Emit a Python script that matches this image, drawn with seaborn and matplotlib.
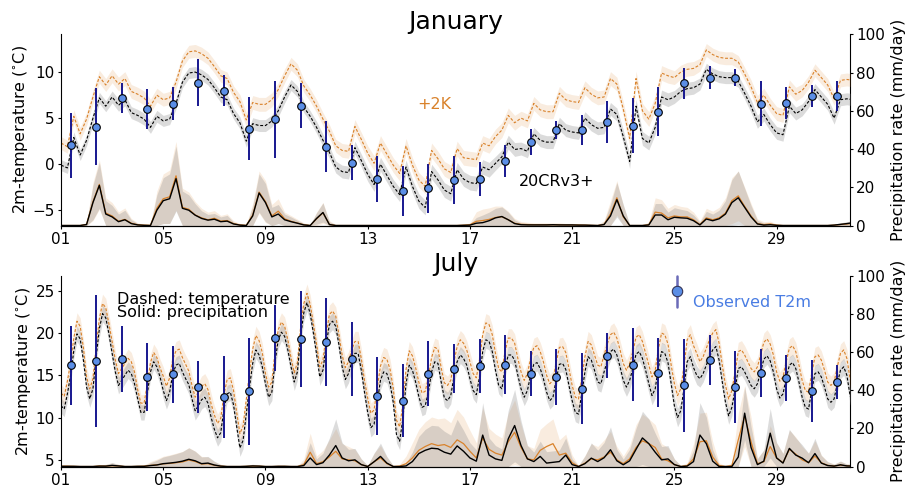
import numpy as np
import matplotlib
matplotlib.use("Agg")
import matplotlib.pyplot as plt
import seaborn as sns

sns.set_style("ticks")
plt.rcParams["font.family"] = ["DejaVu Sans"]
plt.rcParams.update({"text.color": "black", "axes.labelcolor": "black",
                     "xtick.color": "black", "ytick.color": "black",
                     "axes.edgecolor": "black"})

# ---------------- data ----------------
day_ticks = [1, 5, 9, 13, 17, 21, 25, 29]
day_labels = ["01", "05", "09", "13", "17", "21", "25", "29"]
obs_hour = 9

hours_6h = np.arange(0, 745, 6)      # 125 steps, 6-hourly
hours_3h = np.arange(0, 745, 3)      # 249 steps, 3-hourly

# January temperature (6-hourly), 20CRv3 and +2K
jan_t20 = [-0.1, -0.4, 2.9, 1.0, 2.6, 5.0, 7.2, 6.3, 7.3, 6.4, 7.0, 5.6, 5.3, 4.9, 4.0, 5.2,
           4.7, 4.9, 6.6, 8.9, 9.9, 10.0, 9.7, 9.2, 8.3, 7.3, 7.0, 5.5, 4.5, 2.5, 4.4, 4.2,
           4.2, 4.7, 5.8, 7.3, 8.6, 7.9, 6.2, 5.2, 4.0, 2.6, 1.3, -0.3, -0.8, -0.9, 1.8, 0.4,
           -1.1, -2.2, 0.0, -1.2, -2.4, -3.3, -0.3, -2.4, -4.0, -4.7, -0.8, -1.7, -2.8, -3.2, -0.6, -1.6,
           -2.0, -2.1, -0.3, -0.6, 0.1, 0.8, 2.4, 1.6, 1.7, 1.4, 3.3, 2.6, 2.4, 2.4, 4.4, 3.7,
           3.5, 3.4, 5.0, 4.3, 3.9, 4.0, 6.0, 5.4, 3.0, 0.3, 6.3, 2.8, 2.3, 4.0, 7.3, 7.0,
           7.3, 7.9, 8.2, 8.3, 8.7, 10.3, 9.8, 9.5, 9.4, 9.4, 9.0, 7.7, 6.3, 4.6, 5.4, 4.3,
           3.4, 3.2, 6.3, 5.5, 5.9, 6.8, 8.1, 7.3, 6.5, 5.0, 7.0, 7.1, 7.0]
jan_t2k = [2.3, 1.9, 5.2, 3.3, 4.9, 7.3, 9.5, 8.6, 9.6, 8.7, 9.3, 7.9, 7.6, 7.2, 6.3, 7.5,
           7.0, 7.2, 8.9, 11.2, 12.2, 12.3, 12.0, 11.5, 10.6, 9.6, 9.3, 7.8, 6.8, 4.8, 6.7, 6.5,
           6.5, 7.0, 8.1, 9.6, 10.9, 10.2, 8.5, 7.5, 6.3, 4.9, 3.6, 2.0, 1.5, 1.4, 4.1, 2.7,
           1.2, 0.1, 2.3, 1.1, -0.1, -1.0, 2.0, -0.1, -1.7, -2.4, 1.5, 0.6, -0.5, -0.9, 1.7, 0.7,
           0.6, 0.5, 2.3, 2.0, 3.0, 3.7, 5.3, 4.5, 5.0, 4.7, 6.6, 5.9, 5.7, 5.7, 7.7, 7.0,
           6.8, 6.7, 8.3, 7.6, 7.2, 7.3, 9.3, 8.7, 6.0, 2.8, 9.3, 5.8, 4.9, 6.6, 9.9, 9.6,
           9.4, 10.0, 10.3, 10.4, 10.8, 12.4, 11.9, 11.6, 11.5, 11.5, 11.1, 9.8, 8.4, 6.7, 7.5, 6.4,
           5.5, 5.3, 8.4, 7.6, 8.0, 8.9, 10.2, 9.4, 8.6, 7.1, 9.1, 9.2, 9.1]
# daily ensemble spread of temperature (day 1..32)
jan_t20_sd = [0.6, 0.6, 0.65, 0.65, 0.6, 0.6, 0.6, 0.65, 0.65, 0.6, 0.65, 0.7, 0.75, 0.75, 0.8, 0.8,
              0.8, 0.75, 0.7, 0.7, 0.7, 0.7, 0.75, 0.75, 0.7, 0.65, 0.65, 0.7, 0.7, 0.65, 0.65, 0.65]
jan_t2k_sd = [0.7, 0.7, 0.75, 0.75, 0.7, 0.7, 0.7, 0.75, 0.75, 0.7, 0.7, 0.75, 0.8, 0.8, 0.8, 0.8,
              0.8, 0.8, 0.75, 0.75, 0.75, 0.75, 0.8, 0.8, 0.75, 0.7, 0.7, 0.75, 0.75, 0.7, 0.7, 0.7]

# January precipitation (6-hourly) and ensemble spread
jan_p20 = [0, 0, 0, 0, 0.5, 12, 21, 6.0, 4.5, 2.0, 3.0, 1.0, 0.3, 0.1, 0.0, 8.0,
           13, 14, 24.5, 9, 8, 5.4, 3.7, 2.8, 3.3, 2.0, 2.3, 0.8, 0.2, 0.0, 5.0, 17,
           12, 4.5, 6.0, 3.0, 2.0, 1.2, 0.3, 0.0, 3.7, 6.8, 0.5, 0.0, 0, 0, 0, 0,
           0, 0, 0, 0, 0, 0, 0, 0, 0, 0, 0, 0, 0, 0, 0, 0.1,
           0.2, 1.2, 1.5, 2.5, 4.0, 4.7, 3.0, 1.0, 0.4, 0.3, 0.3, 0.3, 0.3, 0.4, 0.3, 0.3,
           0.3, 0.2, 0.2, 0.1, 0.0, 0.5, 5.0, 13.5, 5.0, 0.0, 0.0, 0.0, 0.3, 5.5, 5.5, 3.0,
           4.3, 4.0, 3.8, 2.5, 0.3, 3.4, 2.5, 3.5, 6.0, 12.0, 14.5, 9.5, 4.5, 0.8, 0.2, 0.4,
           0.1, 0, 0, 0, 0, 0, 0, 0, 0.0, 0.2, 0.6, 1.0, 1.5]
jan_p2k = [0, 0, 0, 0, 0.6, 12.5, 21.5, 6.5, 5.0, 2.2, 3.2, 1.2, 0.4, 0.2, 0.1, 9.0,
           14, 15, 26, 9.5, 8.5, 5.5, 4.0, 3.0, 3.8, 2.3, 2.6, 1.0, 0.3, 0.1, 5.5, 17.5,
           12.5, 5.0, 7.5, 3.5, 2.2, 1.3, 0.4, 0.0, 3.5, 6.6, 0.6, 0.0, 0, 0, 0, 0,
           0, 0, 0, 0, 0, 0, 0, 0, 0, 0, 0, 0, 0, 0, 0, 0.2,
           0.4, 2.2, 2.6, 3.2, 4.2, 4.6, 3.0, 1.2, 0.6, 0.5, 0.4, 0.4, 0.4, 0.4, 0.4, 0.3,
           0.3, 0.3, 0.2, 0.1, 0.0, 0.6, 6.0, 14.5, 4.5, 0.0, 0.0, 0.0, 0.4, 7.0, 6.5, 4.0,
           5.0, 4.5, 4.5, 3.0, 0.5, 4.0, 3.0, 4.0, 6.5, 13.0, 15.5, 10.0, 5.0, 1.0, 0.5, 0.8,
           0.2, 0, 0, 0, 0, 0, 0, 0, 0.0, 0.2, 0.5, 0.8, 1.2]
jan_p20_sd = [0, 0, 0, 0.2, 0.8, 9, 12, 7, 6, 4, 5, 2, 0.8, 0.3, 0.3, 8,
              12, 13, 17, 9, 8, 6, 4, 3, 3, 2.5, 3, 1, 0.5, 0.2, 5, 10,
              10, 5, 5, 3, 2.5, 1.5, 0.8, 0.3, 3, 5, 1.5, 0.3, 0.2, 0.1, 0.1, 0.1,
              0.1, 0.1, 0.1, 0.1, 0.1, 0.1, 0.1, 0.1, 0.1, 0.1, 0.1, 0.1, 0.1, 0.1, 0.1, 0.2,
              0.5, 3, 4, 4.5, 5, 5, 4, 2, 1, 0.8, 0.6, 0.6, 0.6, 0.6, 0.6, 0.5,
              0.5, 0.4, 0.4, 0.3, 0.3, 1.5, 6, 9, 6, 0.5, 0.1, 0.1, 1, 6, 6, 4,
              5, 4.5, 4, 3, 1.5, 4, 3.5, 4.5, 7, 12, 14, 10, 6, 2, 1, 1,
              0.5, 0.2, 0.1, 0.1, 0.1, 0.1, 0.1, 0.1, 0.2, 0.5, 0.8, 1, 1.2]
jan_p2k_sd = [0, 0, 0, 0.3, 1.0, 10, 13, 8, 7, 5, 6, 2.5, 1, 0.4, 0.4, 9,
              13, 14, 18, 10, 9, 7, 5, 4, 4, 3, 3.5, 1.5, 0.8, 0.3, 6, 11,
              11, 6, 6.5, 3.5, 3, 2, 1, 0.4, 3.5, 5.5, 2, 0.4, 0.3, 0.2, 0.2, 0.2,
              0.2, 0.2, 0.2, 0.2, 0.2, 0.2, 0.2, 0.2, 0.2, 0.2, 0.2, 0.2, 0.2, 0.2, 0.2, 0.3,
              1, 5, 6, 6, 6, 5.5, 4.5, 2.5, 1.5, 1.2, 1, 1, 1, 1, 1, 0.8,
              0.8, 0.6, 0.5, 0.4, 0.4, 2, 7, 9, 6, 0.6, 0.2, 0.2, 1.5, 7.5, 7, 5,
              6, 5.5, 5, 4, 2, 5, 4.5, 5.5, 8, 12, 13, 10, 6.5, 2.5, 1.5, 1.5,
              0.6, 0.3, 0.2, 0.2, 0.2, 0.2, 0.2, 0.2, 0.3, 0.6, 0.8, 1, 1.2]

jan_obs = [2.05, 4.09, 7.17, 5.98, 6.59, 8.87, 8.0, 3.87, 4.89, 6.37, 1.91, 0.17, -1.6, -2.9, -2.61, -1.71,
           -1.63, 0.39, 2.39, 3.76, 3.76, 4.6, 4.2, 5.68, 8.8, 9.41, 9.41, 6.55, 6.66, 7.42, 7.42]
jan_obs_err = [3.53, 4.15, 1.6, 2.18, 1.8, 2.6, 1.63, 3.45, 4.17, 2.45, 2.75, 1.9, 2.48, 2.72, 2.67, 2.61,
               1.83, 1.73, 1.4, 0.97, 1.63, 2.3, 2.96, 2.65, 1.67, 1.25, 0.94, 2.45, 1.74, 1.21, 1.63]

# July temperature (3-hourly)
jul_t20 = [11.4, 11.0, 12.8, 15.0, 17.9, 19.9, 19.3, 16.8,
           13.6, 12.2, 13.4, 17.2, 20.5, 22.3, 21.8, 19.9,
           17.6, 15.4, 13.8, 14.4, 15.0, 15.6, 15.2, 14.0,
           12.2, 10.6, 10.6, 12.8, 15.4, 16.6, 16.0, 14.8,
           13.2, 12.0, 13.0, 15.2, 16.2, 16.4, 15.4, 14.6,
           13.9, 12.2, 10.8, 11.4, 12.1, 12.4, 11.7, 10.0,
           8.6, 7.6, 8.2, 11.0, 12.8, 13.0, 11.5, 8.9,
           6.4, 7.3, 10.4, 13.6, 16.4, 18.0, 17.4, 16.0,
           14.0, 12.4, 13.0, 16.6, 19.2, 20.1, 19.6, 18.0,
           16.0, 14.2, 15.4, 19.6, 22.4, 23.6, 22.3, 20.0,
           17.5, 14.8, 15.6, 18.6, 21.0, 21.4, 20.8, 18.6,
           16.0, 14.5, 15.2, 16.6, 17.6, 17.6, 15.6, 13.0,
           10.6, 8.8, 9.2, 11.8, 14.4, 15.4, 15.2, 14.0,
           11.8, 8.0, 7.2, 9.8, 14.0, 16.2, 15.6, 14.2,
           12.5, 11.2, 11.4, 13.0, 15.4, 16.6, 16.4, 14.2,
           12.3, 12.0, 12.6, 14.8, 16.6, 17.4, 17.0, 16.2,
           14.6, 13.2, 12.7, 14.8, 17.8, 19.2, 19.0, 17.8,
           15.6, 13.8, 13.4, 15.8, 17.4, 17.4, 16.8, 15.0,
           13.4, 12.4, 13.2, 15.0, 16.3, 16.5, 15.8, 14.6,
           13.0, 12.0, 12.4, 14.5, 16.3, 16.4, 15.7, 13.8,
           12.0, 10.6, 10.4, 12.8, 15.4, 17.2, 16.8, 15.6,
           14.2, 14.0, 15.4, 16.7, 17.8, 18.1, 17.4, 16.0,
           14.4, 13.6, 14.4, 15.8, 17.5, 17.8, 17.0, 15.6,
           14.0, 12.6, 13.4, 15.9, 17.8, 17.6, 16.5, 14.0,
           11.4, 10.0, 10.8, 13.4, 16.6, 17.2, 15.9, 15.0,
           14.6, 15.2, 16.2, 17.2, 18.0, 18.4, 16.8, 14.2,
           11.8, 10.2, 11.2, 13.3, 15.8, 16.0, 15.4, 14.6,
           13.8, 13.4, 14.0, 15.4, 16.9, 17.3, 16.7, 15.4,
           13.4, 12.3, 12.8, 14.6, 16.2, 16.5, 15.8, 14.2,
           12.4, 11.2, 11.0, 13.2, 15.2, 15.4, 14.8, 13.6,
           12.2, 11.8, 12.2, 14.0, 15.6, 16.0, 15.0, 12.6,
           11.5]
jul_t2k = [12.9, 12.5, 14.3, 16.5, 19.4, 21.4, 20.8, 18.3,
           14.8, 13.4, 14.6, 18.4, 21.7, 23.5, 23.0, 21.1,
           19.0, 16.8, 15.2, 15.8, 16.4, 17.0, 16.6, 15.4,
           13.3, 11.7, 11.7, 13.9, 16.5, 17.7, 17.1, 15.9,
           14.9, 13.7, 14.7, 16.9, 17.9, 18.1, 17.1, 16.3,
           15.5, 13.8, 12.4, 13.0, 13.7, 14.0, 13.3, 11.6,
           10.3, 9.3, 9.9, 12.7, 14.5, 14.7, 13.2, 10.6,
           8.1, 9.0, 12.1, 15.3, 18.1, 19.7, 19.1, 17.7,
           15.2, 13.6, 14.2, 17.8, 20.4, 21.3, 20.8, 19.2,
           17.1, 15.3, 16.5, 20.7, 23.5, 24.7, 23.4, 21.1,
           18.7, 16.0, 16.8, 19.8, 22.2, 22.6, 22.0, 19.8,
           17.4, 15.9, 16.6, 18.0, 19.0, 19.0, 17.0, 14.4,
           12.3, 10.5, 10.9, 13.5, 16.1, 17.1, 16.9, 15.7,
           13.5, 9.7, 8.9, 11.5, 15.7, 17.9, 17.3, 15.9,
           14.2, 12.9, 13.1, 14.7, 17.1, 18.3, 18.1, 15.9,
           14.1, 13.8, 14.4, 16.6, 18.4, 19.2, 18.8, 18.0,
           16.6, 15.2, 14.7, 16.8, 19.8, 21.2, 21.0, 19.8,
           17.6, 15.8, 15.4, 17.8, 19.4, 19.4, 18.8, 17.0,
           15.4, 14.4, 15.2, 17.0, 18.3, 18.5, 17.8, 16.6,
           15.0, 14.0, 14.4, 16.5, 18.3, 18.4, 17.7, 15.8,
           13.8, 12.4, 12.2, 14.6, 17.2, 19.0, 18.6, 17.4,
           16.2, 16.0, 17.4, 18.7, 19.8, 20.1, 19.4, 18.0,
           16.4, 15.6, 16.4, 17.8, 19.5, 19.8, 19.0, 17.6,
           16.2, 14.8, 15.6, 18.1, 20.0, 19.8, 18.7, 16.2,
           14.0, 12.6, 13.4, 16.0, 19.2, 19.8, 18.5, 17.6,
           16.6, 17.2, 18.2, 19.2, 20.0, 20.4, 18.8, 16.2,
           13.8, 12.2, 13.2, 15.3, 17.8, 18.0, 17.4, 16.6,
           15.8, 15.4, 16.0, 17.4, 18.9, 19.3, 18.7, 17.4,
           15.4, 14.3, 14.8, 16.6, 18.2, 18.5, 17.8, 16.2,
           14.4, 13.2, 13.0, 15.2, 17.2, 17.4, 16.8, 15.6,
           14.2, 13.8, 14.2, 16.0, 17.6, 18.0, 17.0, 14.6,
           13.5]
jul_t20_sd = [0.9, 1.0, 1.0, 0.9, 1.0, 1.1, 1.0, 1.0, 1.0, 1.0, 1.0, 1.1, 1.1, 1.0, 1.0, 1.0,
              1.0, 1.0, 1.0, 1.0, 1.1, 1.0, 1.1, 1.1, 1.1, 1.0, 1.0, 1.0, 1.0, 1.0, 1.0, 1.0]
jul_t2k_sd = [1.0, 1.1, 1.1, 1.0, 1.1, 1.2, 1.1, 1.1, 1.1, 1.1, 1.1, 1.2, 1.2, 1.1, 1.1, 1.1,
              1.1, 1.1, 1.1, 1.1, 1.2, 1.1, 1.2, 1.2, 1.2, 1.1, 1.1, 1.1, 1.1, 1.1, 1.1, 1.1]

# July precipitation (6-hourly) and ensemble spread
jul_p20 = [0.1, 0.1, 0.1, 0.0, 0.0, 0.0, 0.2, 0.2, 0.6, 0.3, 0.0, 0.0, 0.1, 0.1, 0.5, 0.8,
           1.5, 1.8, 2.2, 2.8, 3.8, 3.0, 1.5, 1.8, 0.8, 0.2, 0.0, 0.0, 0.0, 0.1, 0.3, 0.2,
           0.0, 0.0, 0.1, 0.1, 0.0, 0.0, 0.5, 4.5, 1.0, 2.0, 6.0, 11.0, 4.5, 3.0, 3.5, 1.0,
           0.0, 2.5, 5.3, 1.8, 0.0, 0.0, 0.3, 2.6, 6.8, 8.5, 9.6, 9.3, 7.5, 6.5, 10.8, 8.0,
           4.5, 2.8, 16.5, 6.0, 4.0, 3.2, 14.5, 21.5, 11.0, 4.0, 2.6, 5.3, 1.8, 2.2, 2.6, 6.0,
           1.0, 0.0, 1.5, 4.4, 2.6, 4.6, 8.8, 3.0, 0.9, 3.0, 9.0, 15.0, 12.0, 7.5, 3.5, 4.0,
           1.0, 0.0, 0.2, 2.6, 16.5, 12.0, 2.8, 0.0, 0.0, 0.0, 5.0, 28.0, 10.0, 1.0, 2.8, 17.5,
           4.5, 1.8, 9.5, 6.0, 4.4, 2.0, 6.8, 1.8, 0.5, 0.2, 0.9, 0.3, 0.2]
jul_p2k = [0.2, 0.2, 0.1, 0.0, 0.0, 0.0, 0.3, 0.2, 0.4, 0.3, 0.0, 0.0, 0.1, 0.2, 0.6, 0.9,
           1.4, 1.6, 2.0, 2.4, 3.4, 2.6, 1.3, 1.5, 0.6, 0.2, 0.0, 0.0, 0.0, 0.1, 0.2, 0.2,
           0.0, 0.0, 0.1, 0.1, 0.0, 0.0, 1.0, 7.5, 1.5, 2.5, 5.0, 8.0, 4.0, 3.5, 3.0, 1.0,
           0.0, 2.5, 4.5, 1.5, 0.0, 0.2, 1.5, 4.5, 8.5, 10.5, 12.0, 11.0, 11.5, 10.0, 14.0, 12.0,
           8.0, 4.5, 15.0, 9.0, 7.0, 6.0, 13.0, 18.0, 10.0, 4.0, 3.5, 8.5, 10.5, 12.0, 6.0, 7.0,
           2.0, 0.0, 1.8, 4.0, 3.5, 5.0, 7.5, 3.5, 1.5, 4.0, 10.0, 13.5, 12.0, 10.0, 4.0, 3.0,
           1.0, 0.0, 0.5, 4.0, 13.0, 13.5, 5.0, 0.5, 0.0, 0.5, 14.0, 26.5, 13.0, 1.5, 2.5, 10.5,
           4.5, 2.0, 9.0, 6.5, 3.5, 2.0, 5.5, 2.0, 0.6, 0.3, 0.7, 0.4, 0.2]
jul_p20_sd = [0.3, 0.3, 0.3, 0.2, 0.2, 0.2, 0.5, 0.8, 1.5, 0.8, 0.3, 0.2, 0.3, 0.5, 1.5, 2.5,
              3.5, 4.0, 4.5, 5.0, 6.0, 5.0, 3.5, 3.5, 2.0, 0.8, 0.3, 0.2, 0.2, 0.5, 0.8, 0.6,
              0.3, 0.2, 0.4, 0.4, 0.2, 0.3, 2.0, 8.0, 3.0, 5.0, 9.0, 14.0, 8.0, 6.0, 6.0, 3.0,
              0.5, 4.5, 7.0, 3.5, 0.5, 0.5, 1.5, 5.0, 9.0, 11.0, 12.0, 12.0, 11.0, 10.0, 14.0, 11.0,
              8.0, 6.0, 17.0, 9.0, 7.0, 6.0, 15.0, 19.0, 13.0, 7.0, 5.0, 8.0, 6.0, 6.0, 6.0, 9.0,
              3.0, 0.5, 4.0, 8.0, 6.0, 8.0, 12.0, 6.0, 3.0, 6.0, 11.0, 14.0, 13.0, 10.0, 7.0, 7.0,
              3.0, 0.5, 1.0, 6.0, 17.0, 14.0, 6.0, 1.0, 0.3, 0.5, 8.0, 14.0, 11.0, 3.0, 6.0, 13.0,
              8.0, 5.0, 10.0, 9.0, 7.0, 5.0, 8.0, 4.0, 2.0, 1.0, 2.0, 1.0, 1.0]
jul_p2k_sd = [0.4, 0.4, 0.3, 0.2, 0.2, 0.3, 0.6, 1.0, 1.5, 0.8, 0.3, 0.2, 0.4, 0.6, 2.0, 3.0,
              4.0, 4.5, 5.0, 5.5, 6.5, 5.5, 4.0, 3.5, 2.0, 1.0, 0.3, 0.2, 0.2, 0.6, 1.0, 0.8,
              0.3, 0.2, 0.5, 0.5, 0.2, 0.3, 3.0, 10.0, 4.0, 6.0, 9.0, 12.0, 8.0, 7.0, 6.0, 3.0,
              0.5, 4.5, 6.5, 3.5, 0.5, 1.0, 4.0, 8.0, 11.0, 13.0, 14.0, 14.0, 14.0, 13.0, 16.0, 14.0,
              11.0, 8.0, 16.0, 11.0, 10.0, 9.0, 15.0, 17.0, 12.0, 7.0, 6.0, 11.0, 12.0, 13.0, 8.0, 10.0,
              4.0, 0.5, 4.0, 8.0, 7.0, 9.0, 11.0, 7.0, 4.0, 7.0, 12.0, 14.0, 13.0, 12.0, 8.0, 7.0,
              3.0, 0.5, 1.5, 8.0, 15.0, 15.0, 8.0, 1.5, 0.3, 1.5, 14.0, 16.0, 13.0, 3.0, 6.0, 11.0,
              8.0, 5.0, 10.0, 9.0, 7.0, 5.0, 8.0, 4.0, 2.0, 1.0, 2.0, 1.0, 1.0]

jul_obs = [16.19, 16.66, 16.9, 14.8, 15.12, 13.62, 12.43, 13.1, 19.43, 19.3, 18.95, 16.9, 12.55, 11.96, 15.2, 15.8,
           16.1, 16.26, 15.2, 14.8, 13.42, 17.3, 16.26, 15.3, 13.8, 16.78, 13.62, 15.28, 14.68, 13.14, 14.2]
jul_obs_err = [4.68, 7.83, 3.9, 3.99, 3.4, 3.09, 4.8, 6.33, 3.87, 5.65, 5.2, 4.35, 4.59, 4.32, 3.85, 2.89,
               3.14, 3.48, 2.64, 3.33, 4.19, 2.67, 4.33, 4.09, 5.54, 2.94, 4.23, 2.87, 2.71, 3.72, 2.02]

for arr in (jan_t20, jan_t2k, jan_p20, jan_p2k, jan_p20_sd, jan_p2k_sd,
            jul_p20, jul_p2k, jul_p20_sd, jul_p2k_sd):
    assert len(arr) == len(hours_6h), len(arr)
for arr in (jul_t20, jul_t2k):
    assert len(arr) == len(hours_3h), len(arr)

# ---------------- style ----------------
C20 = "black"
C2K = "#d9822b"
OBS_FACE = "#5b8ee6"
OBS_BAR = "#17178f"
TXT = 11.5
TICK = 11
DASH = (0, (2.6, 1.6))

fig = plt.figure(figsize=(9.08, 4.86), dpi=100)
ax_jan = fig.add_axes([0.0672, 0.5360, 0.8690, 0.3934])
ax_jul = fig.add_axes([0.0672, 0.0401, 0.8690, 0.3920])


def to_day(hours):
    return 1 + np.asarray(hours, dtype=float) / 24.0


def panel(ax, title, title_pad, t_hours, t20, t2k, t20_sd, t2k_sd,
          p20, p2k, p20_sd, p2k_sd, obs, obs_err, tlim, tticks):
    ax2 = ax.twinx()
    td = to_day(t_hours)
    steps_per_day = int(round(24 / (t_hours[1] - t_hours[0])))
    sd20 = np.repeat(t20_sd, steps_per_day)[:len(td)]
    sd2k = np.repeat(t2k_sd, steps_per_day)[:len(td)]
    t20 = np.asarray(t20); t2k = np.asarray(t2k)

    pdays = to_day(hours_6h)
    p20 = np.asarray(p20); p2k = np.asarray(p2k)
    s20 = np.asarray(p20_sd); s2k = np.asarray(p2k_sd)

    # precipitation (right axis)
    ax2.fill_between(pdays, np.clip(p2k - s2k, 0, None), p2k + s2k, color=C2K, alpha=0.15, lw=0)
    ax2.fill_between(pdays, np.clip(p20 - s20, 0, None), p20 + s20, color="gray", alpha=0.27, lw=0)
    sns.lineplot(x=pdays, y=p2k, ax=ax2, color=C2K, lw=0.9, errorbar=None)
    sns.lineplot(x=pdays, y=p20, ax=ax2, color=C20, lw=1.0, errorbar=None)

    # temperature (left axis)
    ax.fill_between(td, t2k - sd2k, t2k + sd2k, color=C2K, alpha=0.15, lw=0)
    ax.fill_between(td, t20 - sd20, t20 + sd20, color="gray", alpha=0.28, lw=0)
    sns.lineplot(x=td, y=t2k, ax=ax, color=C2K, lw=0.8, linestyle=DASH, errorbar=None)
    sns.lineplot(x=td, y=t20, ax=ax, color=C20, lw=0.8, linestyle=DASH, errorbar=None)

    od = to_day(np.arange(len(obs)) * 24 + obs_hour)
    ax.errorbar(od, obs, yerr=obs_err, fmt="o", ms=5.5, mfc=OBS_FACE, mec="black",
                mew=0.8, ecolor=OBS_BAR, elinewidth=1.4, capsize=0, zorder=5)

    ax.set_xlim(1, 31.875)
    ax.set_ylim(*tlim)
    ax.set_yticks(tticks)
    ax2.set_ylim(0, 100)
    ax2.set_yticks([0, 20, 40, 60, 80, 100])
    ax.set_xticks(day_ticks)
    ax.set_xticklabels(day_labels)
    ax.set_xlabel("")
    ax.set_ylabel("2m-temperature ($^{\\circ}$C)", fontsize=TXT, labelpad=2)
    ax2.set_ylabel("Precipitation rate (mm/day)", fontsize=TXT, labelpad=4)
    ax.tick_params(axis="both", labelsize=TICK, length=2.5, pad=2)
    ax2.tick_params(axis="y", labelsize=TICK, length=2.5, pad=2)
    ax.spines["top"].set_visible(False)
    ax.spines["right"].set_visible(False)
    ax2.spines["top"].set_visible(False)
    ax2.spines["left"].set_visible(False)
    ax.set_zorder(ax2.get_zorder() + 1)
    ax.patch.set_visible(False)
    ax.set_title(title, fontsize=18, pad=title_pad)
    return ax2


panel(ax_jan, "January", -1.7, hours_6h, jan_t20, jan_t2k, jan_t20_sd, jan_t2k_sd,
      jan_p20, jan_p2k, jan_p20_sd, jan_p2k_sd, jan_obs, jan_obs_err,
      (-6.65, 14.1), [-5, 0, 5, 10])
panel(ax_jul, "July", -0.5, hours_3h, jul_t20, jul_t2k, jul_t20_sd, jul_t2k_sd,
      jul_p20, jul_p2k, jul_p20_sd, jul_p2k_sd, jul_obs, jul_obs_err,
      (4.2, 26.75), [5, 10, 15, 20, 25])

# annotations
ax_jan.text(14.92, 6.45, "+2K", color=C2K, fontsize=TXT, ha="left", va="center")
ax_jan.text(18.9, -1.9, "20CRv3+", color="black", fontsize=TXT, ha="left", va="center")
ax_jul.text(3.2, 24.0, "Dashed: temperature", fontsize=TXT, ha="left", va="center")
ax_jul.text(3.2, 22.4, "Solid: precipitation", fontsize=TXT, ha="left", va="center")

# observation key
kx, ky = 0.781, 0.923
ax_jul.plot([kx, kx], [1.0, 0.836], transform=ax_jul.transAxes, color="#6b6bb8",
            lw=1.8, clip_on=False, zorder=6)
ax_jul.plot([kx], [ky], transform=ax_jul.transAxes, marker="o", ms=7.5, mfc=OBS_FACE,
            mec="#333355", mew=0.8, clip_on=False, zorder=7, linestyle="none")
ax_jul.text(0.8006, 0.862, "Observed T2m", transform=ax_jul.transAxes, color="#4a7de3",
            fontsize=TXT, ha="left", va="center")

fig.savefig("out.png", dpi=100)
